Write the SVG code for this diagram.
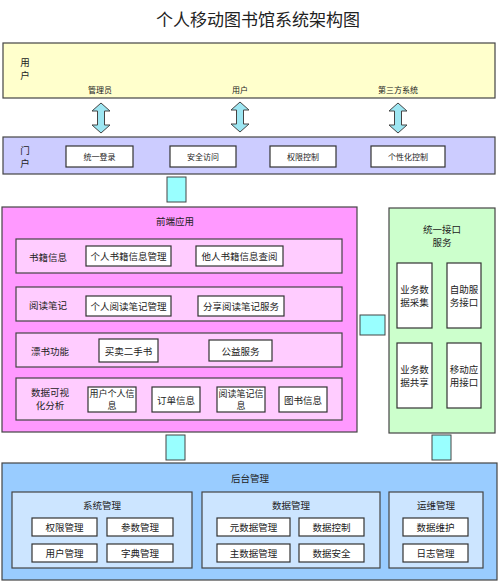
<svg xmlns="http://www.w3.org/2000/svg" width="500" height="581" viewBox="0 0 500 581">
<style>
text{font-family:"Noto Sans CJK SC","Liberation Sans",sans-serif;fill:#222;text-anchor:middle;dominant-baseline:central}
.t{font-size:17px}
.s{font-size:8px}
.m{font-size:9.5px}
.n{font-size:9px}
.frame{stroke:#444;stroke-width:1.2}
.w{fill:#fff;stroke:#333;stroke-width:1.2}
.c{fill:#99FFFF;stroke:#444;stroke-width:1}
.arr{fill:#9DE6F2;stroke:#444;stroke-width:1}
</style>
<defs>
<path id="da" d="M0,-15 L9,-7 L3.5,-7 L3.5,7 L9,7 L0,15 L-9,7 L-3.5,7 L-3.5,-7 L-9,-7 Z"/>
</defs>
<text class="t" x="258" y="18">个人移动图书馆系统架构图</text>

<g id="user">
<rect class="frame" x="3" y="43" width="492" height="55" fill="#FFFFCC"/>
<text class="m" x="25" y="62">用</text><text class="m" x="25" y="75">户</text>
<text class="s" x="100" y="89">管理员</text>
<text class="s" x="240" y="89">用户</text>
<text class="s" x="398" y="89">第三方系统</text>
</g>

<g id="connectors">
<use href="#da" class="arr" x="101" y="118"/>
<use href="#da" class="arr" x="240" y="117"/>
<use href="#da" class="arr" x="398" y="118"/>
<rect class="c" x="167" y="177" width="19" height="25"/>
<rect class="c" x="360" y="315" width="25" height="20"/>
<rect class="c" x="166" y="435" width="19" height="25"/>
<rect class="c" x="432" y="435" width="19" height="25"/>
</g>

<g id="portal">
<rect class="frame" x="3" y="137" width="492" height="37" fill="#CCCCFF"/>
<text class="m" x="25" y="149.5">门</text><text class="m" x="25" y="162.5">户</text>
<rect class="w" x="66" y="146" width="67" height="21"/><text class="s" x="99.5" y="156.5">统一登录</text>
<rect class="w" x="170" y="146" width="66" height="21"/><text class="s" x="203" y="156.5">安全访问</text>
<rect class="w" x="270" y="146" width="66" height="21"/><text class="s" x="303" y="156.5">权限控制</text>
<rect class="w" x="371" y="146" width="74" height="21"/><text class="s" x="408" y="156.5">个性化控制</text>
</g>

<g id="frontend">
<rect class="frame" x="2" y="207" width="355" height="225" fill="#FF99FF"/>
<text class="m" x="175" y="221">前端应用</text>
<rect class="frame" x="16" y="239" width="326" height="34" fill="#FFCCFF"/>
<text class="m" x="48" y="257">书籍信息</text>
<rect class="w" x="86" y="246" width="85" height="20"/><text class="m" x="128.5" y="256">个人书籍信息管理</text>
<rect class="w" x="196" y="246" width="87" height="20"/><text class="m" x="239.5" y="256">他人书籍信息查阅</text>
<rect class="frame" x="16" y="287" width="326" height="34" fill="#FFCCFF"/>
<text class="m" x="48" y="305">阅读笔记</text>
<rect class="w" x="86" y="296" width="85" height="20"/><text class="m" x="128.5" y="306">个人阅读笔记管理</text>
<rect class="w" x="198" y="296" width="86" height="20"/><text class="m" x="241" y="306">分享阅读笔记服务</text>
<rect class="frame" x="16" y="333" width="326" height="34" fill="#FFCCFF"/>
<text class="m" x="50" y="351">漂书功能</text>
<rect class="w" x="99" y="339" width="59" height="23"/><text class="m" x="128.5" y="350.5">买卖二手书</text>
<rect class="w" x="209" y="340" width="63" height="21"/><text class="m" x="240.5" y="350.5">公益服务</text>
<rect class="frame" x="16" y="378" width="326" height="42" fill="#FFCCFF"/>
<text class="m" x="50" y="392">数据可视</text><text class="m" x="50" y="405">化分析</text>
<rect class="w" x="88" y="387" width="48" height="25"/><text class="n" x="112" y="393.5">用户个人信</text><text class="n" x="112" y="405.5">息</text>
<rect class="w" x="152" y="387" width="48" height="25"/><text class="m" x="176" y="400">订单信息</text>
<rect class="w" x="217" y="387" width="48" height="25"/><text class="n" x="241" y="393.5">阅读笔记信</text><text class="n" x="241" y="405.5">息</text>
<rect class="w" x="279" y="387" width="48" height="25"/><text class="m" x="303" y="400">图书信息</text>
</g>

<g id="interface">
<rect class="frame" x="389" y="208" width="106" height="225" fill="#CCFFCC"/>
<text class="m" x="442" y="229">统一接口</text><text class="m" x="442" y="242">服务</text>
<rect class="w" x="397" y="263" width="35" height="65"/><text class="m" x="414.5" y="289">业务数</text><text class="m" x="414.5" y="302">据采集</text>
<rect class="w" x="447" y="263" width="34" height="65"/><text class="m" x="464" y="289">自助服</text><text class="m" x="464" y="302">务接口</text>
<rect class="w" x="397" y="343" width="35" height="65"/><text class="m" x="414.5" y="369">业务数</text><text class="m" x="414.5" y="382">据共享</text>
<rect class="w" x="447" y="343" width="34" height="65"/><text class="m" x="464" y="369">移动应</text><text class="m" x="464" y="382">用接口</text>
</g>

<g id="backend">
<rect class="frame" x="2" y="463" width="495" height="117" fill="#99CCFF"/>
<text class="m" x="250" y="478">后台管理</text>
<rect class="frame" x="12" y="492" width="180" height="76" fill="#CCE5FF"/>
<text class="m" x="102" y="505">系统管理</text>
<rect class="w" x="32" y="518" width="65" height="18"/><text class="m" x="64.5" y="527">权限管理</text>
<rect class="w" x="107" y="518" width="66" height="18"/><text class="m" x="140" y="527">参数管理</text>
<rect class="w" x="32" y="544" width="65" height="18"/><text class="m" x="64.5" y="553">用户管理</text>
<rect class="w" x="107" y="544" width="66" height="18"/><text class="m" x="140" y="553">字典管理</text>
<rect class="frame" x="202" y="492" width="178" height="76" fill="#CCE5FF"/>
<text class="m" x="291" y="505">数据管理</text>
<rect class="w" x="217" y="518" width="73" height="18"/><text class="m" x="253.5" y="527">元数据管理</text>
<rect class="w" x="299" y="518" width="65" height="18"/><text class="m" x="331.5" y="527">数据控制</text>
<rect class="w" x="217" y="544" width="73" height="18"/><text class="m" x="253.5" y="553">主数据管理</text>
<rect class="w" x="299" y="544" width="65" height="18"/><text class="m" x="331.5" y="553">数据安全</text>
<rect class="frame" x="389" y="492" width="94" height="76" fill="#CCE5FF"/>
<text class="m" x="436" y="505">运维管理</text>
<rect class="w" x="403" y="518" width="65" height="18"/><text class="m" x="435.5" y="527">数据维护</text>
<rect class="w" x="403" y="544" width="65" height="18"/><text class="m" x="435.5" y="553">日志管理</text>
</g>
</svg>
